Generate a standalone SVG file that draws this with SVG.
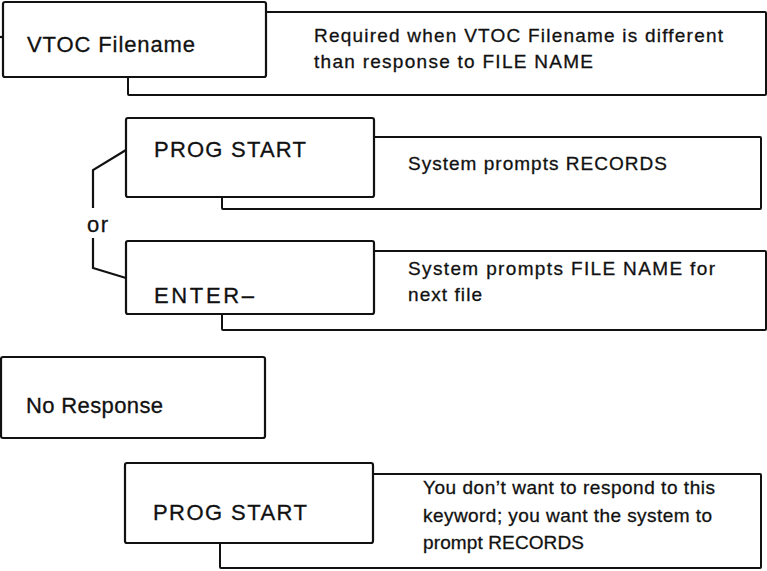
<svg xmlns="http://www.w3.org/2000/svg" width="767" height="571" viewBox="0 0 767 571">
<style>
.box{fill:#fff;stroke:#111;stroke-width:2.2}
.desc{fill:#fff;stroke:#111;stroke-width:2}
.nt{font-family:"Liberation Sans",Arial,sans-serif;font-size:22px;fill:#111;stroke:#111;stroke-width:0.3}
.dt{font-family:"Liberation Sans",Arial,sans-serif;font-size:19px;fill:#111;stroke:#111;stroke-width:0.3}
.con{fill:none;stroke:#111;stroke-width:2.2}
</style>
<rect width="767" height="571" fill="#fff"/>
<g id="connectors">
<polyline class="con" points="126,150 93,170 93,208"/>
<polyline class="con" points="93,238 93,268 126,278"/>
<line class="con" x1="0" y1="37" x2="3" y2="37"/>
</g>
<g id="node-vtoc">
<rect class="desc" x="128" y="12" width="638" height="83" rx="1"/>
<rect class="box" x="3" y="2" width="263" height="75" rx="2"/>
<text class="nt" x="27" y="52" textLength="168" lengthAdjust="spacing">VTOC Filename</text>
<text class="dt" x="314" y="42" textLength="409" lengthAdjust="spacing">Required when VTOC Filename is different</text>
<text class="dt" x="314" y="68" textLength="279" lengthAdjust="spacing">than response to FILE NAME</text>
</g>
<g id="node-progstart1">
<rect class="desc" x="222" y="137" width="539" height="72" rx="1"/>
<rect class="box" x="126" y="118" width="248" height="79" rx="2"/>
<text class="nt" x="154" y="157" textLength="152" lengthAdjust="spacing">PROG START</text>
<text class="dt" x="408" y="170" textLength="259" lengthAdjust="spacing">System prompts RECORDS</text>
</g>
<g id="or-label">
<text class="nt" x="87" y="232" textLength="21" lengthAdjust="spacing">or</text>
</g>
<g id="node-enter">
<rect class="desc" x="222" y="251" width="544" height="79" rx="1"/>
<rect class="box" x="126" y="241" width="248" height="73" rx="2"/>
<text class="nt" x="154" y="303" textLength="100" lengthAdjust="spacing">ENTER–</text>
<text class="dt" x="408" y="275" textLength="307" lengthAdjust="spacing">System prompts FILE NAME for</text>
<text class="dt" x="408" y="301" textLength="74" lengthAdjust="spacing">next file</text>
</g>
<g id="node-noresponse">
<rect class="box" x="1" y="357" width="264" height="81" rx="2"/>
<text class="nt" x="26" y="413" textLength="137" lengthAdjust="spacing">No Response</text>
</g>
<g id="node-progstart2">
<rect class="desc" x="220" y="474" width="541" height="94" rx="1"/>
<rect class="box" x="125" y="463" width="248" height="80" rx="2"/>
<text class="nt" x="153" y="520" textLength="154" lengthAdjust="spacing">PROG START</text>
<text class="dt" x="423" y="494" textLength="292" lengthAdjust="spacing">You don’t want to respond to this</text>
<text class="dt" x="423" y="522" textLength="289" lengthAdjust="spacing">keyword; you want the system to</text>
<text class="dt" x="423" y="549" textLength="161" lengthAdjust="spacing">prompt RECORDS</text>
</g>
</svg>
